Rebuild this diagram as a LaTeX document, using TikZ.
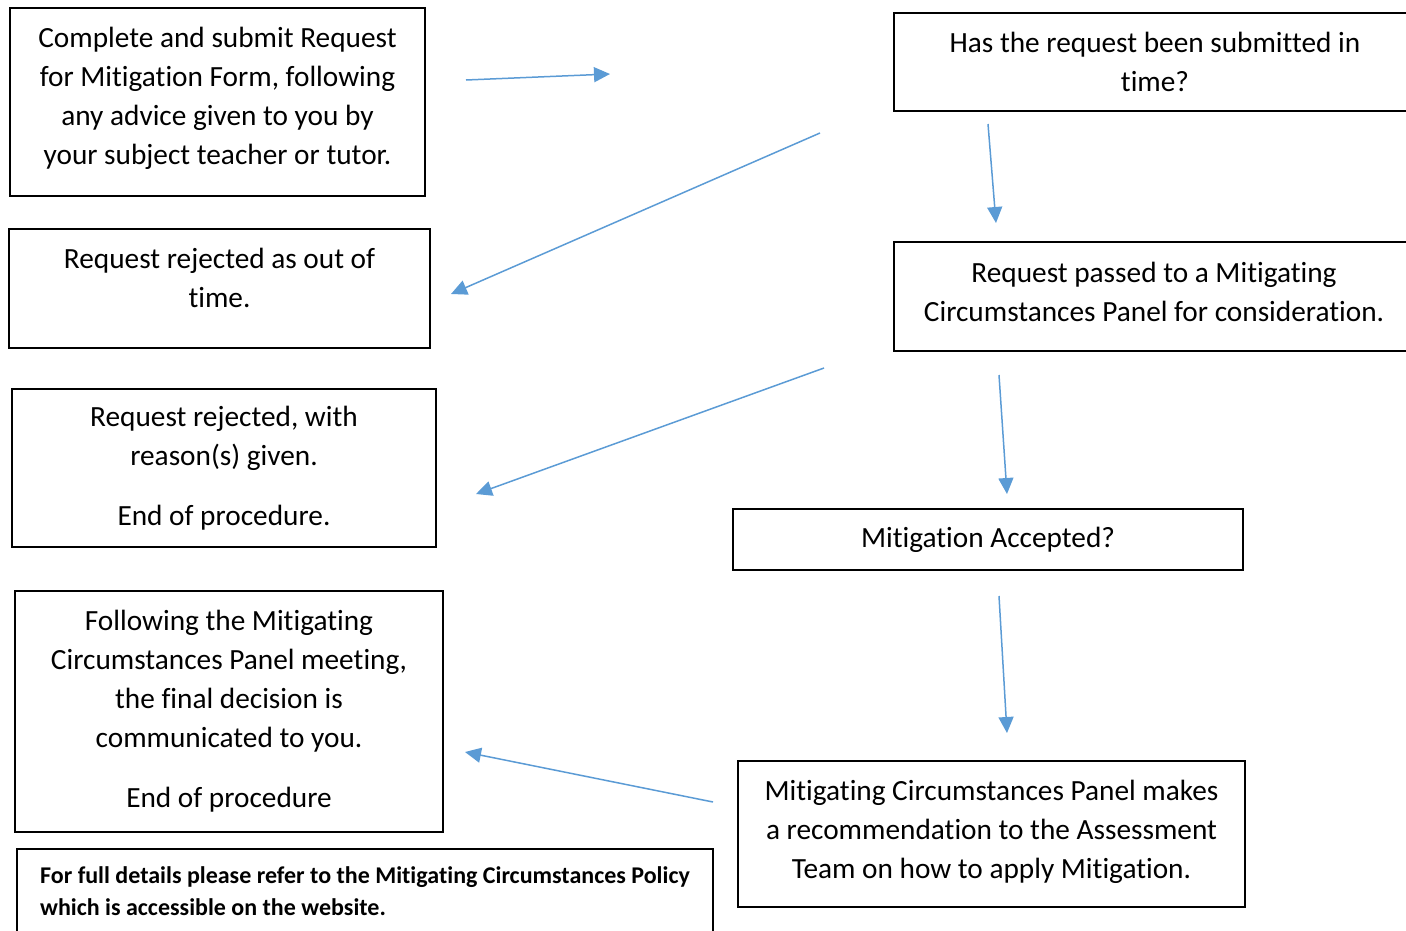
\documentclass[tikz,border=0pt]{standalone}
\usepackage{fontspec}
\setmainfont{Carlito}[Ligatures=NoCommon]
\usetikzlibrary{arrows.meta}
\definecolor{arrowblue}{HTML}{5B9BD5}

\tikzset{stepbox/.style={draw, line width=2pt, align=center, inner sep=0pt,
                         font=\fontsize{29.3}{39}\selectfont},
         steptext/.style={align=center, inner sep=0pt,
                         font=\fontsize{29.3}{39}\selectfont},
         notebox/.style={draw, line width=2pt, align=left, inner sep=0pt,
                         font=\fontsize{24}{32}\selectfont\bfseries},
         flow/.style={draw=arrowblue, line width=1.5pt,
                      -{Triangle[length=16pt,width=15pt]}}}

\begin{document}
\begin{tikzpicture}[x=1pt,y=-1pt]
\useasboundingbox (0,0) rectangle (1406,930);
\clip (0,0) rectangle (1406,930);
% boxes
\node [stepbox, minimum width=415pt, minimum height=188pt] (submit) at (217.5,102) {};
\node [steptext] (submittext) at ([yshift=4pt]submit.center)
  {Complete and submit Request\\for Mitigation Form, following\\any advice given to you by\\your subject teacher or tutor.};
\node [stepbox, minimum width=522pt, minimum height=98pt] (intime) at (1155,62)
  {Has the request been submitted in\\time?};
\node [stepbox, minimum width=421pt, minimum height=119pt] (late) at (219.5,288.5) {};
\node [steptext] (latetext) at ([yshift=11pt]late.center)
  {Request rejected as out of\\time.};
\node [stepbox, minimum width=520pt, minimum height=109pt] (panel) at (1154,296.5) {};
\node [steptext] (paneltext) at ([yshift=5pt]panel.center)
  {Request passed to a Mitigating\\Circumstances Panel for consideration.};
\node [stepbox, minimum width=424pt, minimum height=158pt] (rejected) at (224,468)
  {Request rejected, with\\reason(s) given.\\[21pt]End of procedure.};
\node [stepbox, minimum width=510pt, minimum height=61pt] (accepted) at (988,539.5)
  {Mitigation Accepted?};
\node [stepbox, minimum width=428pt, minimum height=241pt] (decision) at (229,711.5)
  {Following the Mitigating\\Circumstances Panel meeting,\\the final decision is\\communicated to you.\\[21pt]End of procedure};
\node [stepbox, minimum width=507pt, minimum height=146pt] (recommend) at (991.5,834) {};
\node [steptext] (recommendtext) at ([yshift=2pt]recommend.center)
  {Mitigating Circumstances Panel makes\\a recommendation to the Assessment\\Team on how to apply Mitigation.};
\node [notebox, minimum width=696pt, minimum height=84pt] (policy) at (365,891)
  {For full details please refer to the Mitigating Circumstances Policy\\which is accessible on the website.};
% arrow ends
\coordinate (a1s) at (466,80);   \coordinate (a1e) at (610,74);
\coordinate (a2s) at (820,133);  \coordinate (a2e) at (451,294);
\coordinate (a3s) at (988,124);  \coordinate (a3e) at (996,223);
\coordinate (a4s) at (824,368);  \coordinate (a4e) at (476,494);
\coordinate (a5s) at (999,375);  \coordinate (a5e) at (1007,494);
\coordinate (a6s) at (999,596);  \coordinate (a6e) at (1007,733);
\coordinate (a7s) at (713,802);  \coordinate (a7e) at (465,752);
\foreach \i in {1,...,7}
  \draw [flow] (a\i s) -- (a\i e);
\end{tikzpicture}
\end{document}
